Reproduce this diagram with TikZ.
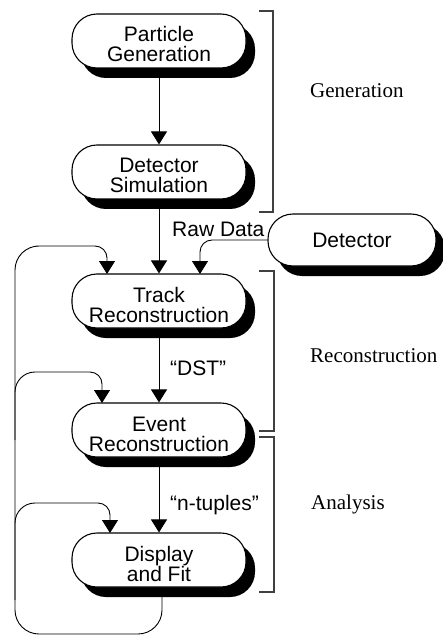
\documentclass[tikz,border=0pt]{standalone}
\usepackage{fontspec}
\setmainfont{Liberation Serif}
\newfontfamily\boxfont{Liberation Sans}
\usetikzlibrary{arrows.meta,shadows}
\begin{document}
\begin{tikzpicture}[x=1pt,y=-1pt,
  proc/.style={draw=black, line width=1.1pt, fill=white, rounded corners=25pt,
    minimum width=174pt, minimum height=54pt, align=center, inner sep=0pt,
    font=\boxfont\fontsize{21}{20}\selectfont,
    drop shadow={shadow xshift=9pt,shadow yshift=-10pt,fill=black,opacity=1}},
  two/.style={text height=42pt, text depth=0pt},
  arr/.style={line width=0.9pt, -{Triangle[width=16pt,length=13pt]}},
  lbl/.style={font=\boxfont\fontsize{21}{22}\selectfont, anchor=base west, inner sep=0pt},
  phase/.style={font=\fontsize{21}{24}\selectfont, anchor=base west, inner sep=0pt},
  brk/.style={line width=1.2pt, draw=black!75}]
\useasboundingbox (0,0) rectangle (443,636);

% brackets
\draw[brk] (259,11) -| (273,212) -- (259,212);
\draw[brk] (259,271) -| (274,431) -- (259,431);
\draw[brk] (259,437) -| (274,592) -- (259,592);

\node[phase] (gen) at (310,98) {Generation};
\node[phase] (rec) at (310,362) {Reconstruction};
\node[phase] (ana) at (311,509) {Analysis};

% process boxes
\node[proc, two] (pg) at (159,41) {Particle\\Generation};
\node[proc, two] (ds) at (159,172) {Detector\\Simulation};
\node[proc, two] (tr) at (159,301) {Track\\Reconstruction};
\node[proc, two] (er) at (159,430) {Event\\Reconstruction};
\node[proc, two] (df) at (159,560) {Display\\and Fit};
\node[proc, minimum width=168pt, minimum height=52pt] (det) at (352,240) {Detector};

% main flow
\draw[arr] (pg) -- (ds);
\draw[arr] (ds) -- (tr);
\draw[arr] (tr) -- (er);
\draw[arr] (er) -- (df);

\node[lbl] (raw) at (172,236) {Raw Data};
\node[lbl] (dst) at (170,375) {“DST”};
\node[lbl] (nt) at (170,510) {“n-tuples”};

% detector input
\coordinate (t3) at (200,274);
\draw[arr, rounded corners=12pt] (det.west) -| (t3);

% feedback loops
\coordinate (lo) at (162,590);
\coordinate (bl) at (15,634);
\coordinate (tpa) at (60,246);
\coordinate (t1) at (107,274);
\coordinate (sb) at (15,440);
\coordinate (tpb) at (60,372);
\coordinate (t2) at (102,403);
\coordinate (sc) at (15,600);
\coordinate (tpc) at (60,503);
\coordinate (t4) at (110,533);
\draw[arr, rounded corners=24pt] (lo) |- (bl) |- (tpa) [rounded corners=12pt] -| (t1);
\draw[arr, rounded corners=20pt] (sb) |- (tpb) [rounded corners=12pt] -| (t2);
\draw[arr, rounded corners=20pt] (sc) |- (tpc) [rounded corners=12pt] -| (t4);
\end{tikzpicture}
\end{document}
